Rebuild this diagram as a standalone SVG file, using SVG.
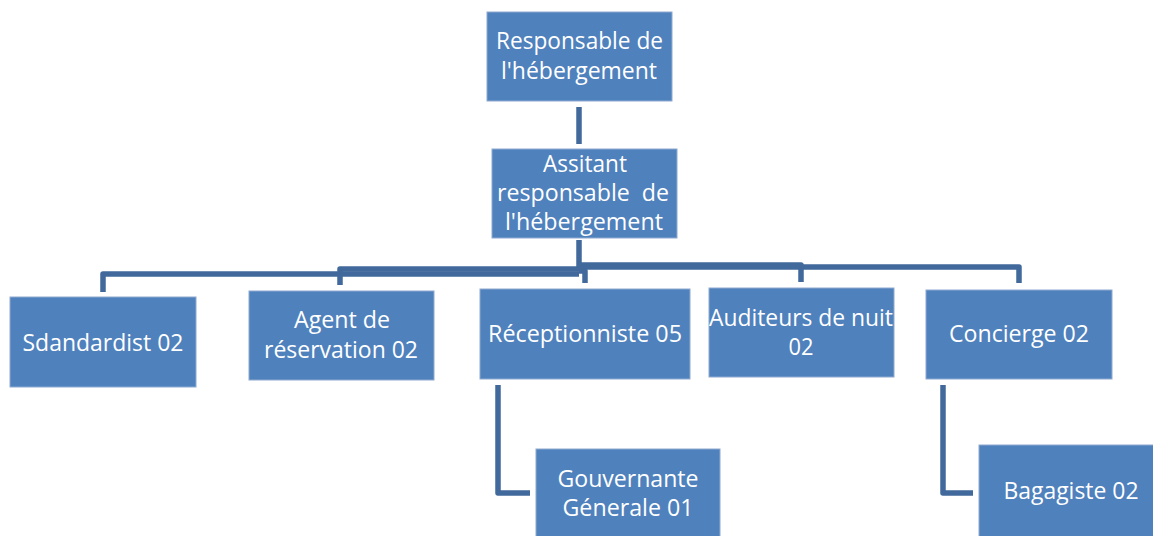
<svg xmlns="http://www.w3.org/2000/svg" width="1153" height="536" viewBox="0 0 1153 536">
  <style>
    .box { fill: #4F81BD; stroke: #8FAAD0; stroke-width: 1; }
    .lbl { fill: #FFFFFF; font-family: "Open Sans", "Liberation Sans", sans-serif; font-size: 23px; text-anchor: middle; white-space: pre; }
    .link { fill: none; stroke: #41699B; stroke-width: 5.5; stroke-linejoin: round; }
  </style>
  <rect width="1153" height="536" fill="#FFFFFF"/>

  <!-- connectors -->
  <g id="connectors">
    <path class="link" d="M579 107 V144"/>
    <path class="link" d="M579 240 V270"/>
    <path class="link" d="M579 274 H103 V292"/>
    <path class="link" d="M579 269 H340 V285"/>
    <path class="link" d="M579 271 H585 V283"/>
    <path class="link" d="M579 265 H801 V282"/>
    <path class="link" d="M579 267 H1019 V283"/>
    <path class="link" d="M498 385 V493 H530"/>
    <path class="link" d="M943 385 V493 H973"/>
  </g>

  <g id="responsable">
    <rect class="box" x="487" y="12" width="185" height="89"/>
    <text class="lbl" x="579.5" y="49" textLength="167" lengthAdjust="spacingAndGlyphs">Responsable de</text>
    <text class="lbl" x="579" y="79" textLength="156" lengthAdjust="spacingAndGlyphs">l'hébergement</text>
  </g>

  <g id="assistant">
    <rect class="box" x="492" y="149" width="185" height="89"/>
    <text class="lbl" x="585" y="172" textLength="84" lengthAdjust="spacingAndGlyphs">Assitant</text>
    <text class="lbl" x="583" y="201" textLength="172" lengthAdjust="spacingAndGlyphs">responsable  de</text>
    <text class="lbl" x="584" y="230" textLength="158" lengthAdjust="spacingAndGlyphs">l'hébergement</text>
  </g>

  <g id="standardiste">
    <rect class="box" x="10" y="297" width="186" height="90"/>
    <text class="lbl" x="103" y="351" textLength="161" lengthAdjust="spacingAndGlyphs">Sdandardist 02</text>
  </g>

  <g id="agent-reservation">
    <rect class="box" x="249" y="291" width="185" height="89"/>
    <text class="lbl" x="342" y="328" textLength="96" lengthAdjust="spacingAndGlyphs">Agent de</text>
    <text class="lbl" x="341" y="358" textLength="154" lengthAdjust="spacingAndGlyphs">réservation 02</text>
  </g>

  <g id="receptionniste">
    <rect class="box" x="480" y="289" width="210" height="90"/>
    <text class="lbl" x="585" y="342" textLength="194" lengthAdjust="spacingAndGlyphs">Réceptionniste 05</text>
  </g>

  <g id="auditeurs">
    <rect class="box" x="709" y="288" width="185" height="89"/>
    <text class="lbl" x="801" y="326" textLength="184" lengthAdjust="spacingAndGlyphs">Auditeurs de nuit</text>
    <text class="lbl" x="801" y="355" textLength="25" lengthAdjust="spacingAndGlyphs">02</text>
  </g>

  <g id="concierge">
    <rect class="box" x="926" y="290" width="186" height="89"/>
    <text class="lbl" x="1019" y="342" textLength="140" lengthAdjust="spacingAndGlyphs">Concierge 02</text>
  </g>

  <g id="gouvernante">
    <rect class="box" x="536" y="449" width="184" height="95"/>
    <text class="lbl" x="628" y="487" textLength="141" lengthAdjust="spacingAndGlyphs">Gouvernante</text>
    <text class="lbl" x="628" y="516" textLength="131" lengthAdjust="spacingAndGlyphs">Génerale 01</text>
  </g>

  <g id="bagagiste">
    <rect class="box" x="979" y="445" width="180" height="99"/>
    <text class="lbl" x="1071" y="499" textLength="135" lengthAdjust="spacingAndGlyphs">Bagagiste 02</text>
  </g>
</svg>
